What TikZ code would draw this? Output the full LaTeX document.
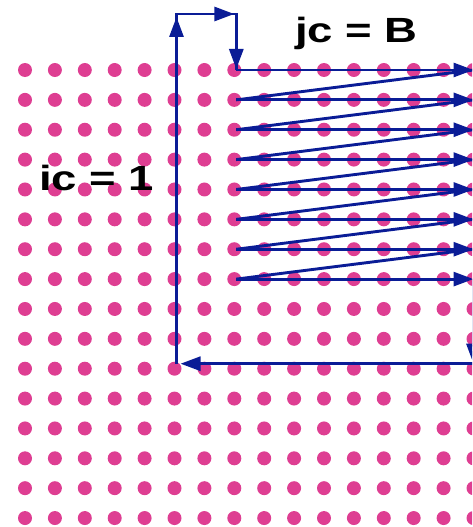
\documentclass[tikz,border=0pt]{standalone}
\usepackage{fontspec}
\setmainfont{Liberation Sans}
\usetikzlibrary{arrows.meta,calc}
\definecolor{dotpink}{RGB}{222,62,146}
\definecolor{navy}{RGB}{10,28,150}
\tikzset{
  dot/.style={circle,fill=dotpink,draw=none,inner sep=0pt,minimum size=14pt},
  flow/.style={draw=navy,line width=2.9pt},
  tipped/.style={flow,-{Triangle[length=20pt,width=14pt]}},
  lbl/.style={inner sep=0pt,anchor=base west,text=black,font=\fontsize{35}{35}\selectfont\bfseries}
}
\begin{document}
\begin{tikzpicture}[x=1pt,y=-1pt]
\useasboundingbox (0,0) rectangle (472,527);
\clip (0,0) rectangle (472,527);
% dot grid
\foreach \c in {0,...,15}{
  \foreach \r in {0,...,15}{
    \node[dot] (d-\c-\r) at ({25+\c*29.9},{70+\r*29.87}) {};
  }
}
% corner coordinates of the outer loop
\coordinate (bl) at ($(d-5-10.center)+(2,-5)$);
\coordinate (tl) at (bl |- 0,14);
\coordinate (tr) at ($(d-7-0.center |- 0,14)+(2,0)$);
\coordinate (st) at (tr |- d-7-0.center);
\coordinate (br) at ($(d-15-10.center)+(0,-5)$);
% outer path
\draw[flow,line join=miter] (bl) -- (tl) -- (tr) -- (st);
\draw[tipped,shorten >=3pt] (bl) -- (tl);
\draw[tipped,shorten >=2pt] (tl) -- (tr);
\draw[tipped,shorten >=1pt] (tr) -- (st);
% zigzag rows
\foreach \r in {0,...,7}{
  \draw[tipped] ([xshift=2pt]d-7-\r.center) -- (d-15-\r.center);
}
\foreach \r [evaluate=\r as \n using int(\r+1)] in {0,...,6}{
  \draw[flow] (d-15-\r.center) -- ([xshift=2pt]d-7-\n.center);
}
% right descent and return along the bottom
\draw[tipped] (d-15-7.center) -- (br);
\draw[tipped,shorten >=4pt] (br) -- (bl);
% labels
\node[lbl] (jc) at (295,43) {\scalebox{1.3}[1]{jc = B}};
\node[lbl] (ic) at (39,190) {\scalebox{1.3}[1]{ic = 1}};
\end{tikzpicture}
\end{document}
